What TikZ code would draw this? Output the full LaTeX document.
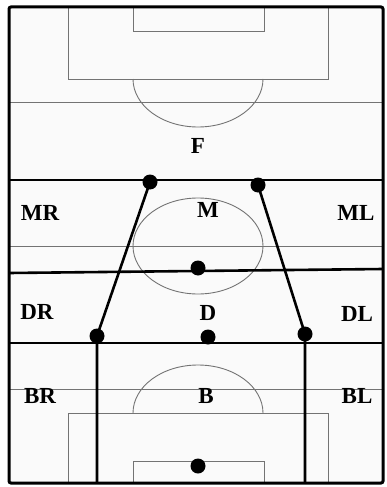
\documentclass[tikz,border=0pt]{standalone}
\usepackage{fontspec}
\setmainfont{Liberation Serif}
\begin{document}
\begin{tikzpicture}[x=1pt,y=-1pt,
  thinline/.style={draw=black!55,line width=0.9pt},
  thickline/.style={draw=black,line width=2.6pt},
  player/.style={circle,fill=black,inner sep=0pt,minimum size=15pt},
  lbl/.style={font=\bfseries\fontsize{23}{23}\selectfont,inner sep=0pt}]
\useasboundingbox (0,0) rectangle (387,487);
\fill[black!2] (9,7) rectangle (383,483);
% field markings
\draw[thinline] (68,7) |- (328,79) -- (328,7);
\draw[thinline] (133,7) |- (264,31) -- (264,7);
\draw[thinline] (133,79) arc[start angle=180,end angle=0,x radius=65,y radius=48];
\draw[thinline] (9,102) -- (383,102);
\draw[thinline] (198,246) ellipse[x radius=65,y radius=48];
\draw[thinline] (9,246) -- (383,246);
\draw[thinline] (9,389) -- (383,389);
\draw[thinline] (68,483) |- (328,413) -- (328,483);
\draw[thinline] (133,483) |- (264,461) -- (264,483);
\draw[thinline] (133,413) arc[start angle=180,end angle=360,x radius=65,y radius=48];
% zone lines
\draw[thickline] (9,180) -- (383,180);
\draw[thickline] (9,273) -- (383,269);
\draw[thickline] (9,343) -- (383,343);
% labels
\node[lbl] (F) at (198,146) {F};
\node[lbl] (MR) at (40,213) {MR};
\node[lbl] (M) at (208,210) {M};
\node[lbl] (ML) at (356,213) {ML};
\node[lbl] (DR) at (37,312) {DR};
\node[lbl] (D) at (208,313) {D};
\node[lbl] (DL) at (357,314) {DL};
\node[lbl] (BR) at (40,396) {BR};
\node[lbl] (B) at (206,396) {B};
\node[lbl] (BL) at (357,396) {BL};
% players
\node[player] (p1) at (150,182) {};
\node[player] (p2) at (258,185) {};
\node[player] (p3) at (198,268) {};
\node[player] (p4) at (97,336) {};
\node[player] (p5) at (208,337) {};
\node[player] (p6) at (305,334) {};
\node[player] (p7) at (198,466) {};
\coordinate (b4) at (97,483);
\coordinate (b6) at (305,483);
\draw[thickline] (p1.center) -- (p4.center) -- (b4);
\draw[thickline] (p2.center) -- (p6.center) -- (b6);
% border
\draw[black,line width=3pt,rounded corners=2pt] (9,7) rectangle (383,483);
\end{tikzpicture}
\end{document}
